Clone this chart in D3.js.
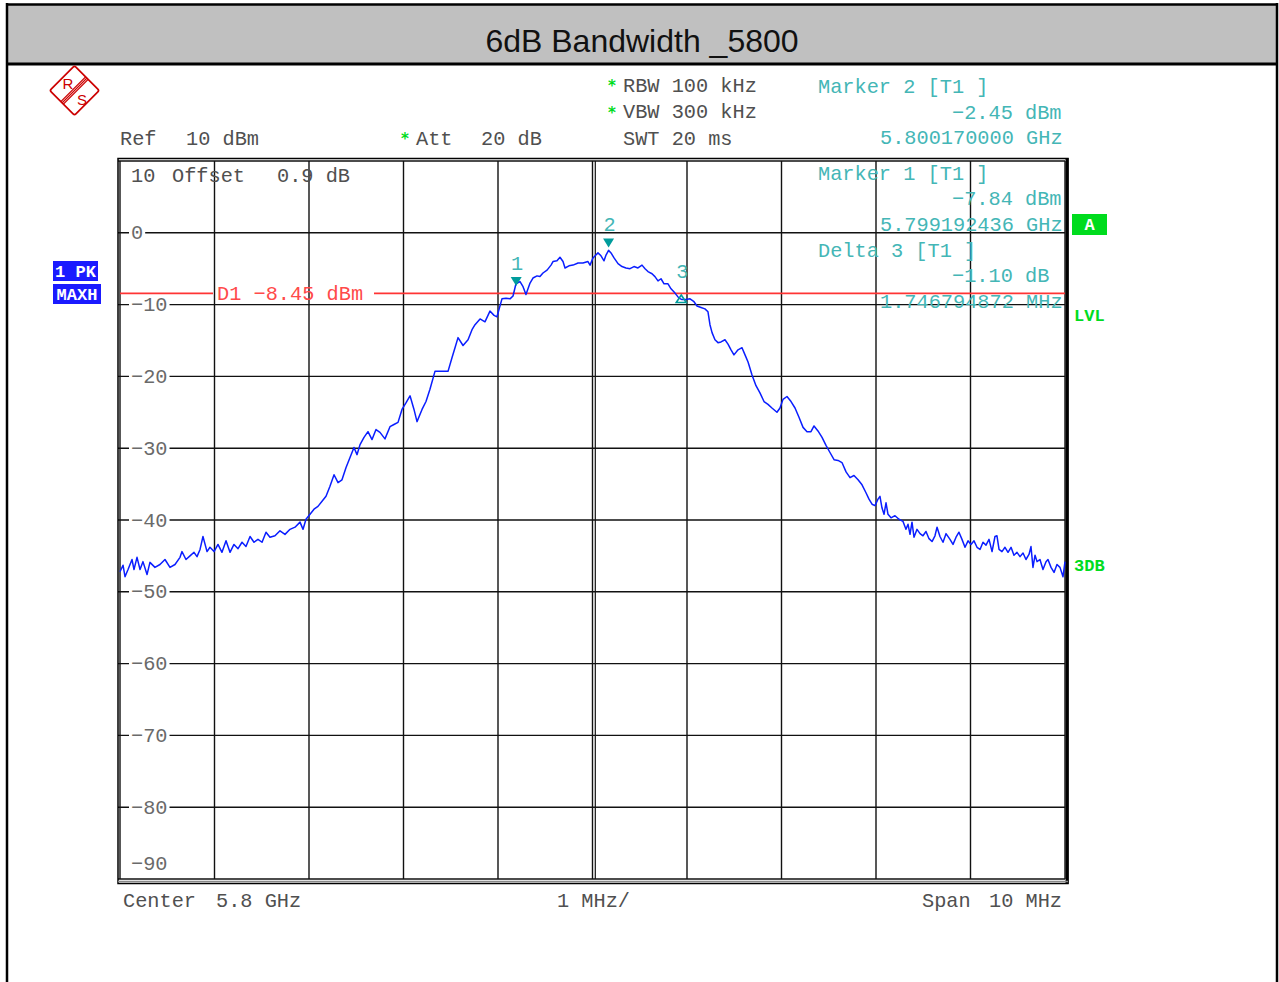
<!DOCTYPE html>
<html>
<head>
<meta charset="utf-8">
<script src="https://cdn.jsdelivr.net/npm/d3@7"></script>
<style>
body { margin: 0; background: #fff; }
svg { display: block; }
.mono { font-family: 'Liberation Mono', 'DejaVu Sans Mono', monospace; font-size: 20.3px; }
</style>
</head>
<body>
<svg id="chart" width="1279" height="982"></svg>
<script>

// trace 1 (PK / MAXH), frequency as offset from 5.8 GHz centre in MHz, level in dBm
var traceFreq = [-5.000,-4.968,-4.947,-4.915,-4.873,-4.852,-4.820,-4.788,-4.757,-4.714,-4.683,-4.630,-4.577,-4.524,-4.471,-4.418,-4.365,-4.344,-4.302,-4.259,-4.217,-4.185,-4.153,-4.122,-4.079,-4.048,-4.005,-3.963,-3.921,-3.878,-3.836,-3.794,-3.751,-3.709,-3.667,-3.624,-3.582,-3.540,-3.497,-3.455,-3.413,-3.360,-3.307,-3.254,-3.201,-3.148,-3.095,-3.063,-3.032,-2.989,-2.947,-2.905,-2.862,-2.820,-2.778,-2.735,-2.693,-2.651,-2.608,-2.566,-2.524,-2.492,-2.460,-2.418,-2.376,-2.333,-2.291,-2.249,-2.196,-2.143,-2.101,-2.058,-2.016,-1.974,-1.931,-1.889,-1.857,-1.804,-1.762,-1.720,-1.667,-1.614,-1.561,-1.529,-1.487,-1.455,-1.423,-1.370,-1.317,-1.275,-1.243,-1.190,-1.138,-1.085,-1.042,-1.011,-0.958,-0.915,-0.873,-0.841,-0.810,-0.767,-0.735,-0.704,-0.661,-0.630,-0.587,-0.556,-0.524,-0.481,-0.439,-0.418,-0.376,-0.344,-0.312,-0.291,-0.249,-0.206,-0.153,-0.101,-0.048,-0.026,0.005,0.058,0.090,0.122,0.143,0.170,0.196,0.228,0.270,0.312,0.354,0.397,0.439,0.481,0.524,0.556,0.587,0.630,0.661,0.693,0.725,0.757,0.799,0.831,0.873,0.915,0.947,0.989,1.032,1.074,1.106,1.148,1.190,1.222,1.243,1.265,1.296,1.328,1.360,1.402,1.434,1.466,1.497,1.540,1.582,1.614,1.646,1.688,1.730,1.772,1.815,1.857,1.899,1.952,1.984,2.016,2.058,2.101,2.143,2.185,2.228,2.270,2.312,2.344,2.386,2.429,2.471,2.513,2.556,2.598,2.640,2.683,2.725,2.767,2.810,2.852,2.894,2.926,2.958,2.989,3.021,3.042,3.063,3.085,3.106,3.127,3.159,3.201,3.243,3.286,3.317,3.339,3.360,3.381,3.402,3.434,3.466,3.497,3.529,3.561,3.593,3.624,3.646,3.677,3.709,3.741,3.783,3.815,3.847,3.878,3.910,3.942,3.974,4.005,4.037,4.069,4.101,4.132,4.164,4.196,4.228,4.259,4.280,4.302,4.333,4.365,4.397,4.429,4.460,4.492,4.524,4.556,4.587,4.619,4.640,4.661,4.683,4.704,4.735,4.767,4.799,4.820,4.852,4.884,4.915,4.947,4.979,5.000];
var traceLevel = [-47.2,-46.3,-47.9,-46.9,-45.5,-46.9,-45.2,-46.9,-45.8,-47.6,-45.9,-46.6,-46.2,-45.5,-46.6,-46.2,-45.2,-44.4,-45.5,-45.0,-44.5,-45.1,-44.1,-42.3,-44.4,-43.8,-44.4,-43.4,-44.5,-42.9,-44.5,-43.4,-44.0,-43.1,-43.7,-42.3,-43.1,-42.7,-43.1,-41.7,-42.4,-42.2,-41.5,-42.0,-41.3,-41.0,-40.3,-41.3,-39.9,-39.2,-38.5,-38.1,-37.4,-36.7,-35.3,-33.7,-34.8,-34.4,-32.7,-31.3,-29.9,-30.9,-29.5,-28.5,-27.7,-28.8,-27.4,-27.8,-28.7,-27.0,-26.7,-26.4,-24.6,-23.7,-22.7,-24.6,-26.3,-24.6,-23.5,-21.8,-19.3,-19.3,-19.3,-19.3,-17.4,-16.0,-14.6,-15.7,-14.9,-13.5,-12.8,-12.0,-12.4,-10.9,-11.5,-11.7,-9.2,-9.1,-9.2,-8.8,-7.1,-6.8,-7.5,-8.6,-7.0,-6.3,-6.0,-6.1,-5.6,-5.2,-4.5,-4.0,-3.9,-3.4,-4.0,-4.9,-4.6,-4.5,-4.2,-4.2,-4.0,-4.5,-3.5,-2.8,-3.2,-3.9,-3.1,-2.45,-2.8,-3.5,-4.3,-4.7,-4.9,-5.0,-4.7,-4.9,-4.5,-5.0,-5.4,-5.7,-6.1,-6.7,-6.4,-7.1,-7.1,-7.8,-8.4,-9.1,-9.3,-9.3,-9.2,-9.6,-10.2,-10.4,-10.6,-11.0,-12.8,-13.9,-14.9,-15.3,-15.2,-14.9,-15.5,-16.3,-17.0,-16.3,-16.0,-17.0,-18.0,-19.8,-21.3,-22.3,-23.5,-23.9,-24.4,-25.0,-24.4,-23.2,-22.8,-23.5,-24.4,-25.7,-27.1,-27.7,-27.7,-26.9,-27.6,-28.5,-29.6,-30.6,-31.6,-31.7,-32.0,-33.3,-34.1,-33.8,-34.4,-35.1,-36.2,-37.1,-37.8,-38.0,-37.1,-36.7,-38.3,-39.2,-37.6,-39.2,-39.7,-39.4,-39.9,-40.2,-41.3,-40.6,-42.0,-40.3,-42.4,-41.3,-41.9,-42.2,-41.6,-42.6,-43.0,-42.2,-41.0,-42.3,-43.1,-41.9,-42.7,-43.4,-42.4,-41.7,-42.7,-43.8,-42.9,-43.4,-42.9,-43.8,-44.1,-43.1,-43.5,-42.7,-44.4,-42.3,-42.2,-44.1,-44.4,-43.8,-44.5,-43.8,-44.9,-44.5,-45.1,-44.6,-45.5,-44.8,-43.7,-46.6,-44.9,-45.8,-45.5,-46.9,-45.8,-45.5,-46.6,-47.3,-46.2,-46.6,-47.9,-45.8];

// markers: 1 and 2 normal, 3 is delta to marker 1
var markerNames = ['1', '2', '3'];
var markerFreq = [-0.807564, 0.17, -0.807564 + 1.746794872];
var markerLevel = [-7.84, -2.45, -7.84 - 1.10];
var markerDelta = [false, false, true];

var markerInfo = [
    ['Marker 2 [T1 ]', '-2.45 dBm', '5.800170000 GHz'],
    ['Marker 1 [T1 ]', '-7.84 dBm', '5.799192436 GHz'],
    ['Delta 3 [T1 ]', '-1.10 dB', '1.746794872 MHz']
];

var levelTicks = [10, 0, -10, -20, -30, -40, -50, -60, -70, -80, -90];
var freqTicks = [-5, -4, -3, -2, -1, 0, 1, 2, 3, 4, 5];
var displayLine = -8.45;

var titleText = '6dB Bandwidth _5800';

var svg = d3.select('#chart');
var x = d3.scaleLinear().domain([-5, 5]).range([120, 1065]);
var y = d3.scaleLinear().domain([10, -90]).range([161, 879]);

var cyan = '#44b6b6';
var green = '#00dc1e';
var grey = '#505050';

// window frame and title bar
svg.append('rect').attr('x', 7).attr('y', 4).attr('width', 1270).attr('height', 60)
    .style('fill', '#c0c0c0');
svg.append('line').attr('x1', 6).attr('x2', 1278).attr('y1', 4.5).attr('y2', 4.5)
    .style('stroke', '#000').style('stroke-width', 2.5);
svg.append('line').attr('x1', 6).attr('x2', 1278).attr('y1', 64).attr('y2', 64)
    .style('stroke', '#000').style('stroke-width', 3);
svg.append('line').attr('x1', 7).attr('x2', 7).attr('y1', 3).attr('y2', 982)
    .style('stroke', '#000').style('stroke-width', 2.5);
svg.append('line').attr('x1', 1277).attr('x2', 1277).attr('y1', 3).attr('y2', 982)
    .style('stroke', '#000').style('stroke-width', 2.5);

svg.append('text').text(titleText)
    .attr('x', 642).attr('y', 52)
    .style('font-family', "'Liberation Sans', Arial, sans-serif")
    .style('font-size', '32px')
    .style('text-anchor', 'middle')
    .style('fill', '#111');

// R&S logo
var logo = svg.append('g').attr('transform', 'translate(74.5,90.5)');
logo.append('rect')
    .attr('x', -17.5).attr('y', -17.5).attr('width', 35).attr('height', 35)
    .attr('rx', 2).attr('transform', 'rotate(45)')
    .style('fill', 'none').style('stroke', '#cc0000').style('stroke-width', 1.7);
[-1.8, 0, 1.8].forEach(function(o){
    logo.append('line')
        .attr('x1', 12.5 + o * 0.7).attr('y1', -12.5 + o * 0.7)
        .attr('x2', -12.5 + o * 0.7).attr('y2', 12.5 + o * 0.7)
        .style('stroke', '#cc0000').style('stroke-width', 1.1);
});
logo.append('text').text('R').attr('x', -12).attr('y', -1.5)
    .style('font-family', "'Liberation Sans', sans-serif").style('font-size', '15px').style('fill', '#cc0000');
logo.append('text').text('S').attr('x', 2.5).attr('y', 14.5)
    .style('font-family', "'Liberation Sans', sans-serif").style('font-size', '15px').style('fill', '#cc0000');

// header settings
function monoText(str, tx, ty, color) {
    return svg.append('text').attr('class', 'mono').text(str)
        .attr('x', tx).attr('y', ty).style('fill', color || grey);
}
function star(tx, ty) {
    svg.append('text').text('*').attr('x', tx).attr('y', ty)
        .style('font-family', "'DejaVu Sans', sans-serif")
        .style('font-size', '15px').style('font-weight', 'bold').style('fill', green);
}

star(608, 91); monoText('RBW 100 kHz', 623, 91.5);
star(608, 118); monoText('VBW 300 kHz', 623, 118);
monoText('SWT 20 ms', 623, 145);
monoText('Ref', 120, 145); monoText('10 dBm', 186, 145);
star(401, 144); monoText('Att', 416, 145); monoText('20 dB', 481, 145);

// grid
var grid = svg.append('g').attr('class', 'grid');
grid.selectAll('line.v').data(freqTicks).enter().append('line').attr('class', 'v')
    .attr('x1', function(d){ return x(d); }).attr('x2', function(d){ return x(d); })
    .attr('y1', y(10)).attr('y2', y(-90))
    .style('stroke', '#111').style('stroke-width', 1.4);
grid.append('line')
    .attr('x1', x(0) + 2.8).attr('x2', x(0) + 2.8).attr('y1', y(10)).attr('y2', y(-90))
    .style('stroke', '#111').style('stroke-width', 1.2);
grid.selectAll('line.h').data(levelTicks).enter().append('line').attr('class', 'h')
    .attr('x1', 118).attr('x2', x(5))
    .attr('y1', function(d){ return y(d); }).attr('y2', function(d){ return y(d); })
    .style('stroke', '#111').style('stroke-width', 1.4);

// plot frame
svg.append('rect').attr('x', 118).attr('y', 158.5).attr('width', 950).attr('height', 725)
    .style('fill', 'none').style('stroke', '#000').style('stroke-width', 1.5);
svg.append('line').attr('x1', 1067).attr('x2', 1067).attr('y1', 158).attr('y2', 884)
    .style('stroke', '#000').style('stroke-width', 3);
svg.append('line').attr('x1', 118).attr('x2', 1068).attr('y1', 881.5).attr('y2', 881.5)
    .style('stroke', '#888').style('stroke-width', 1.5);

// level labels
var labelTicks = levelTicks.filter(function(d){ return d < 10 && d > -90; });
var lab = svg.selectAll('g.ylab').data(labelTicks).enter().append('g').attr('class', 'ylab');
lab.append('text').attr('class', 'mono')
    .text(function(d){ return d < 0 ? '\u2212' + Math.abs(d) : String(d); })
    .attr('x', 131).attr('y', function(d){ return y(d) + 6.5; })
    .style('fill', '#6a6a6a')
    .each(function(){
        var b = this.getBBox();
        d3.select(this.parentNode).insert('rect', 'text')
            .attr('x', b.x - 2).attr('y', b.y + 2).attr('width', b.width + 4).attr('height', b.height - 4)
            .style('fill', '#fff');
    });
monoText('\u2212' + Math.abs(levelTicks[levelTicks.length - 1]), 131, y(-90) - 9, '#6a6a6a');
monoText(String(levelTicks[0]), 131, y(10) + 21, grey);
monoText('Offset', 172, y(10) + 21, grey);
monoText('0.9 dB', 277, y(10) + 21, grey);

// display line D1
var dy = y(displayLine);
svg.append('line').attr('x1', x(-5)).attr('x2', 213).attr('y1', dy).attr('y2', dy)
    .style('stroke', '#ff3434').style('stroke-width', 1.7);
svg.append('line').attr('x1', 374).attr('x2', x(5)).attr('y1', dy).attr('y2', dy)
    .style('stroke', '#ff3434').style('stroke-width', 1.7);
monoText('D1 \u22128.45 dBm', 217, dy + 6.5, '#ff4a4a');

// trace
var line = d3.line()
    .x(function(d){ return x(d[0]); })
    .y(function(d){ return y(d[1]); });
svg.append('path').datum(d3.zip(traceFreq, traceLevel))
    .attr('d', line)
    .style('fill', 'none').style('stroke', '#0a1eff').style('stroke-width', 1.5)
    .style('stroke-linejoin', 'round');

// markers
markerNames.forEach(function(name, i){
    var mx = x(markerFreq[i]), my = y(markerLevel[i]);
    if (markerDelta[i]) {
        svg.append('path')
            .attr('d', 'M' + mx + ',' + (my - 2) + 'L' + (mx + 5) + ',' + (my + 5.5) + 'L' + (mx - 5) + ',' + (my + 5.5) + 'Z')
            .style('fill', 'none').style('stroke', '#009c9c').style('stroke-width', 1.6);
    } else {
        svg.append('path')
            .attr('d', 'M' + (mx - 5.5) + ',' + (my - 12) + 'L' + (mx + 5.5) + ',' + (my - 12) + 'L' + mx + ',' + (my - 3) + 'Z')
            .style('fill', '#009c9c');
    }
    svg.append('text').attr('class', 'mono').text(name)
        .attr('x', mx + 1).attr('y', my - 19)
        .style('text-anchor', 'middle').style('fill', cyan);
});

// marker info block
markerInfo.forEach(function(rows, i){
    var top = i === 0 ? 93 : 179.5 + (i - 1) * 77;
    var step = i === 0 ? 25.6 : 25.6;
    monoText(rows[0], 818, top, cyan);
    monoText(rows[1].replace('-', '\u2212'), 952, top + step, cyan);
    monoText(rows[2], 880, top + 2 * step, cyan);
});

// side labels
function badge(str, bx, by, bw, bh, fill, ty) {
    svg.append('rect').attr('x', bx).attr('y', by).attr('width', bw).attr('height', bh).style('fill', fill);
    svg.append('text').text(str).attr('x', bx + bw / 2).attr('y', ty)
        .style('font-family', "'Liberation Mono', monospace").style('font-size', '17px')
        .style('font-weight', 'bold').style('text-anchor', 'middle').style('fill', '#fff');
}
badge('1 PK', 53, 261, 45, 20, '#1a1aff', 276.5);
badge('MAXH', 53, 284, 48, 20, '#1a1aff', 299.5);
badge('A', 1072, 214, 35, 21, green, 230);

function sideText(str, ty) {
    svg.append('text').text(str).attr('x', 1074).attr('y', ty)
        .style('font-family', "'Liberation Mono', monospace").style('font-size', '17px')
        .style('font-weight', 'bold').style('fill', green);
}
sideText('LVL', 320.5);
sideText('3DB', 571);

// footer
monoText('Center', 123, 907);
monoText('5.8 GHz', 216, 907);
monoText('1 MHz/', 557, 907);
monoText('Span', 922, 907);
monoText('10 MHz', 989, 907);

</script>
</body>
</html>
